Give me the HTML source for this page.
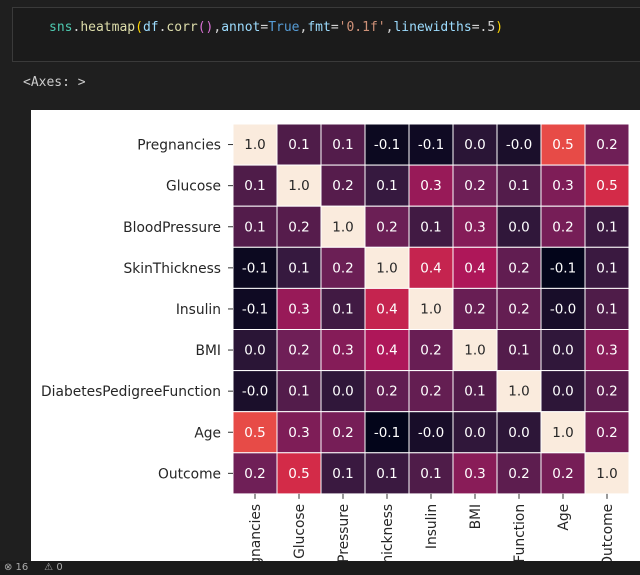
<!DOCTYPE html>
<html><head><meta charset="utf-8">
<style>
html,body{margin:0;width:640px;height:575px;overflow:hidden}
body{background:#1f1f1f;position:relative;font-family:"DejaVu Sans","Liberation Sans",sans-serif}
#cell{position:absolute;left:12px;top:7px;width:640px;height:55px;border:1px solid #3a3a3a;border-right:none;background:#1b1b1b;box-sizing:border-box}
#code{position:absolute;left:49px;top:20px;font-family:"DejaVu Sans Mono","Liberation Mono",monospace;font-size:13px;color:#d4d4d4;white-space:pre}
#out{position:absolute;left:23px;top:75px;font-family:"DejaVu Sans Mono","Liberation Mono",monospace;font-size:13px;color:#ccc}
#panel{position:absolute;left:31px;top:110px;width:609px;height:451px;background:#fff;overflow:hidden}
#status{position:absolute;left:0;top:561px;width:640px;height:14px;background:#1b1b1b;color:#aaa;font-size:10px;overflow:hidden}
</style></head><body>
<div id="cell"></div>
<div id="code"><span style="color:#4ec9b0">sns</span>.<span style="color:#dcdcaa">heatmap</span><span style="color:#ffd700">(</span><span style="color:#9cdcfe">df</span>.<span style="color:#dcdcaa">corr</span><span style="color:#da70d6">()</span>,<span style="color:#9cdcfe">annot</span>=<span style="color:#569cd6">True</span>,<span style="color:#9cdcfe">fmt</span>=<span style="color:#ce9178">'0.1f'</span>,<span style="color:#9cdcfe">linewidths</span>=.5<span style="color:#ffd700">)</span></div>
<div id="out">&lt;Axes: &gt;</div>
<div id="panel">
<svg id="svg" width="609" height="451" xmlns="http://www.w3.org/2000/svg"></svg>
</div>
<div id="status"><span style="position:absolute;left:4px;top:1px">⊗ 16 &nbsp;&nbsp;&nbsp; ⚠ 0</span></div>
<script>
const labels=["Pregnancies","Glucose","BloodPressure","SkinThickness","Insulin","BMI","DiabetesPedigreeFunction","Age","Outcome"];
const row0=[1,.13,.14,-.08,-.07,.02,-.03,.54,.22];
const row1=[.13,1,.15,.06,.33,.22,.14,.26,.47];
const row2=[.14,.15,1,.21,.09,.28,.04,.24,.07];
const row3=[-.08,.06,.21,1,.44,.39,.18,-.11,.07];
const row4=[-.07,.33,.09,.44,1,.2,.19,-.04,.13];
const row5=[.02,.22,.28,.39,.2,1,.14,.04,.29];
const row6=[-.03,.14,.04,.18,.19,.14,1,.03,.17];
const row7=[.54,.26,.24,-.11,-.04,.04,.03,1,.24];
const row8=[.22,.47,.07,.07,.13,.29,.17,.24,1];
const matrix=[row0,row1,row2,row3,row4,row5,row6,row7,row8];
const vmin=-0.11,vmax=1;
const stops=[[0,[3,5,26]],[0.15,[53,25,62]],[0.3,[112,31,87]],[0.45,[174,23,89]],[0.55,[225,51,66]],[0.65,[243,118,81]],[0.8,[246,180,142]],[1,[250,235,221]]];
function cmap(v){let t=Math.max(0,Math.min(1,(v-vmin)/(vmax-vmin)));for(let i=1;i<stops.length;i++){if(t<=stops[i][0]){const a=stops[i-1],b=stops[i];const f=(t-a[0])/(b[0]-a[0]);const c=a[1].map((x,k)=>Math.round(x+(b[1][k]-x)*f));return {c:`rgb(${c})`,lum:(0.299*c[0]+0.587*c[1]+0.114*c[2])};}}return {c:'#faebdd',lum:240};}
const X0=202,Y0=14,CW=44,CH=41.1,FS=13.8;
const xs=i=>X0+i*CW, ys=j=>Y0+j*CH;
const svg=document.getElementById('svg');const NS="http://www.w3.org/2000/svg";
function el(t,a){const e=document.createElementNS(NS,t);for(const k in a)e.setAttribute(k,a[k]);svg.appendChild(e);return e;}
matrix.forEach((row,j)=>row.forEach((v,i)=>{
 const col=cmap(v);
 const r=el('rect',{x:xs(i),y:ys(j),width:CW,height:CH,fill:col.c,stroke:'#fff','stroke-width':1});
 
 
 const t=el('text',{x:xs(i)+CW/2,y:ys(j)+CH/2+4.5,'text-anchor':'middle','font-size':13.5,fill:col.lum>128?'#262626':'#fff'});
 t.textContent=(Math.round(v*10)/10).toFixed(1);
 if(v<0&&Math.round(v*10)===0)t.textContent='-0.0';
 
 
}));
labels.forEach((l,j)=>{
 el('line',{x1:X0-5,x2:X0,y1:ys(j)+CH/2,y2:ys(j)+CH/2,stroke:'#333'});
 const t=el('text',{x:X0-12,y:ys(j)+CH/2+5,'text-anchor':'end','font-size':FS,fill:'#262626'});
 t.textContent=l;
 
 
});
labels.forEach((l,i)=>{
 const cx=xs(i)+CW/2, y=Y0+9*CH;
 el('line',{x1:cx,x2:cx,y1:y,y2:y+5,stroke:'#333'});
 const t=el('text',{x:0,y:0,'text-anchor':'end','font-size':FS,fill:'#262626',transform:`translate(${cx+5},${y+10}) rotate(-90)`});
 t.textContent=l;
 
 
});
</script>
</body></html>
